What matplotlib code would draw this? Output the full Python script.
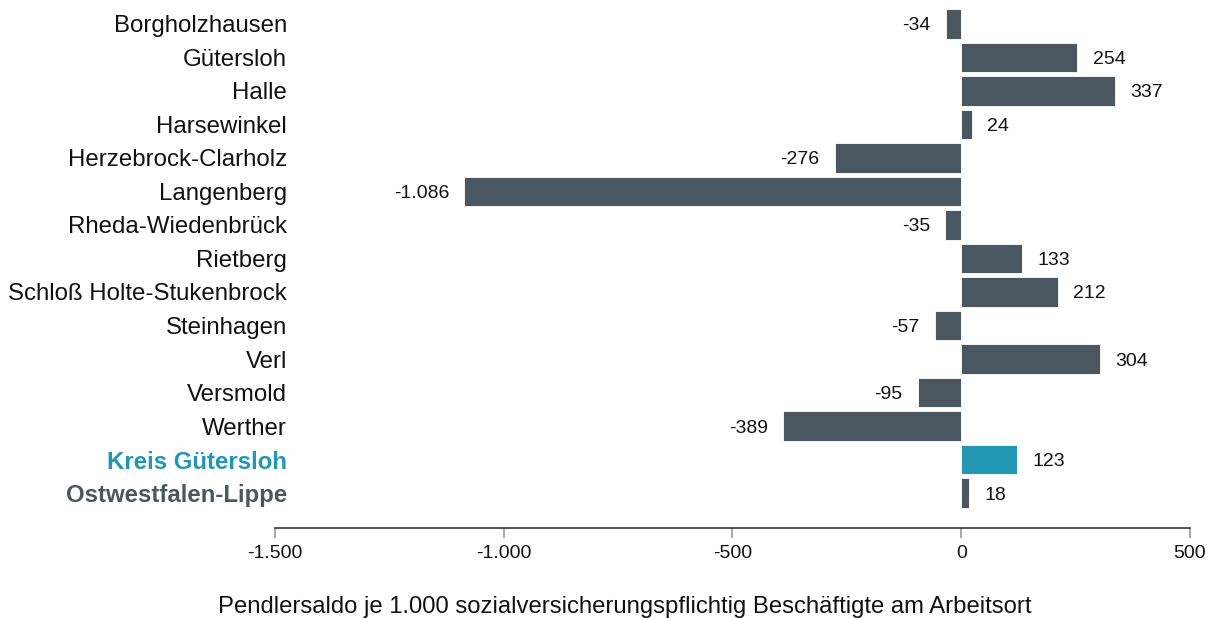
import matplotlib.pyplot as plt
from matplotlib.ticker import FuncFormatter

plt.rcParams['font.family'] = ['Liberation Sans', 'DejaVu Sans']

orte = ['Borgholzhausen', 'Gütersloh', 'Halle', 'Harsewinkel', 'Herzebrock-Clarholz',
        'Langenberg', 'Rheda-Wiedenbrück', 'Rietberg', 'Schloß Holte-Stukenbrock',
        'Steinhagen', 'Verl', 'Versmold', 'Werther', 'Kreis Gütersloh', 'Ostwestfalen-Lippe']
saldo = [-34, 254, 337, 24, -276, -1086, -35, 133, 212, -57, 304, -95, -389, 123, 18]
ticks = [-1500, -1000, -500, 0, 500]

dunkel = '#4a5660'
teal = '#2396b2'
farben = [dunkel] * 13 + [teal, dunkel]


def de(v, pos=None):
    return f'{v:,.0f}'.replace(',', '.')


fig = plt.figure(figsize=(12.15, 6.18), dpi=100)
ax = fig.add_axes([0.2263, 0.1456, 0.7531, 0.8427])

y = list(range(len(orte)))
ax.barh(y, saldo, height=0.89, color=farben, edgecolor='white', linewidth=0.6)

for yi, v in zip(y, saldo):
    if v >= 0:
        ax.annotate(de(v), (v, yi), xytext=(11, 0), textcoords='offset points',
                    ha='left', va='center_baseline', fontsize=14, color='#111111')
    else:
        ax.annotate(de(v), (v, yi), xytext=(-11, 0), textcoords='offset points',
                    ha='right', va='center_baseline', fontsize=14, color='#111111')

ax.set_xlim(-1500, 500)
ax.set_ylim(15.045, -0.5)
ax.set_xticks(ticks)
ax.xaxis.set_major_formatter(FuncFormatter(de))
ax.set_yticks(y)
ax.set_yticklabels(orte)

for s in ['top', 'right', 'left']:
    ax.spines[s].set_visible(False)
ax.spines['bottom'].set_color('#333333')
ax.spines['bottom'].set_linewidth(1.2)

ax.tick_params(axis='x', length=7, width=1.2, color='#999999', labelsize=14, pad=5,
               labelcolor='#111111')
ax.tick_params(axis='y', length=0, labelsize=17.3, pad=-8.6, labelcolor='#111111')
for t in ax.get_yticklabels():
    t.set_verticalalignment('center_baseline')

labels = ax.get_yticklabels()
labels[13].set_color(teal)
labels[13].set_fontweight('bold')
labels[14].set_color(dunkel)
labels[14].set_fontweight('bold')

fig.text(625 / 1215, 1 - 613 / 618,
         'Pendlersaldo je 1.000 sozialversicherungspflichtig Beschäftigte am Arbeitsort',
         ha='center', va='baseline', fontsize=17.2, color='#111111')

fig.savefig('out.png', dpi=100)
